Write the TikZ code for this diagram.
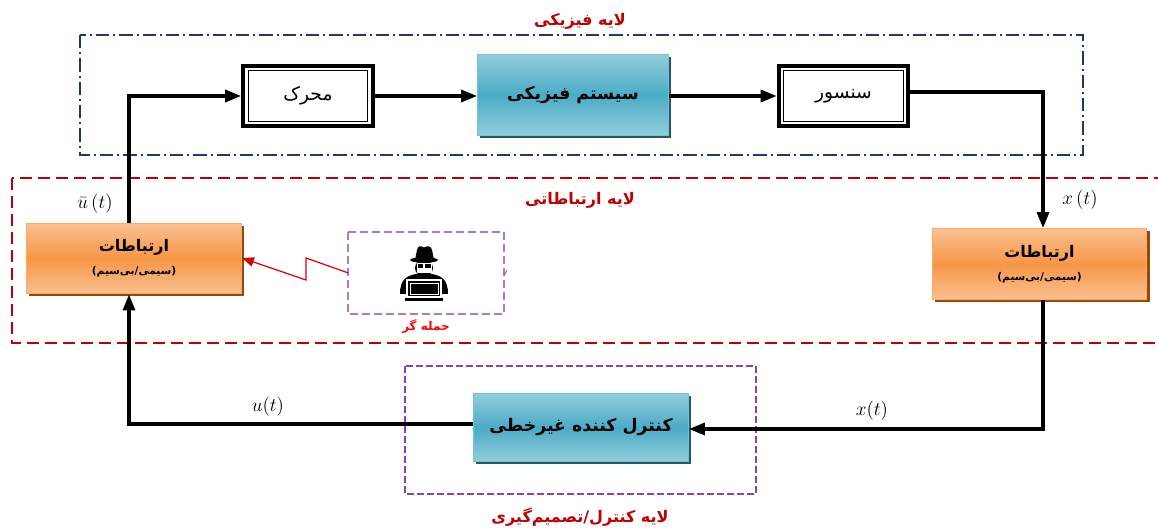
\documentclass[tikz,border=0pt]{standalone}
\usepackage{fontspec}
\usepackage{xcolor}
\usepackage{amsmath}
\usetikzlibrary{arrows.meta,shadows,calc}
\TeXXeTstate=1
\newfontfamily\farsi[Script=Arabic]{DejaVu Sans}
\newcommand{\fatxt}[1]{{\farsi\beginR #1\endR}}
\definecolor{navyline}{RGB}{31,56,110}
\definecolor{layerred}{RGB}{192,0,0}
\definecolor{attackred}{RGB}{255,0,0}
\definecolor{hackerpurple}{RGB}{167,124,205}
\definecolor{ctrlpurple}{RGB}{128,70,185}
\definecolor{tealtop}{RGB}{146,205,220}
\definecolor{tealmid}{RGB}{75,172,198}
\definecolor{tealedge}{RGB}{120,192,212}
\definecolor{tealshade}{RGB}{35,90,105}
\definecolor{orangetop}{RGB}{250,192,144}
\definecolor{orangemid}{RGB}{247,150,70}
\definecolor{orangeedge}{RGB}{249,170,110}
\definecolor{orangeshade}{RGB}{152,72,7}

\begin{document}
\begin{tikzpicture}[x=0.75pt,y=0.75pt,yscale=-1,xscale=1,
  flow/.style={line width=2.4pt,-{Triangle[length=12pt,width=9pt]}},
  framebox/.style={draw=black,line width=3.2pt,fill=white,minimum width=97pt,minimum height=45pt,inner sep=0pt,font=\fontsize{14}{16}\selectfont},
  tealbox/.style={draw=tealedge,line width=0.8pt,top color=tealtop,bottom color=tealtop,middle color=tealmid,general shadow={fill=tealshade,shadow xshift=2pt,shadow yshift=-2pt},font=\bfseries\fontsize{13}{15}\selectfont},
  orangebox/.style={draw=orangeedge,line width=0.8pt,top color=orangetop,bottom color=orangetop,middle color=orangemid,general shadow={fill=orangeshade,shadow xshift=2pt,shadow yshift=-2pt},minimum width=161pt,minimum height=53pt,align=center},
  layerlabel/.style={text=layerred,font=\bfseries\fontsize{12}{14}\selectfont},
  mathlabel/.style={font=\fontsize{14}{16}\selectfont}
]
\useasboundingbox (0,0) rectangle (1158,531);
%Shape: Rectangle (physical layer)
\draw [navyline,line width=1.1pt,dash pattern={on 10pt off 3pt on 1.5pt off 3pt}] (80,35) rectangle (1083,155) ;
%Shape: Rectangle (communication layer)
\draw [layerred,line width=1.1pt,dash pattern={on 9pt off 4.5pt}] (12,178) rectangle (1180,343) ;
%Shape: Rectangle (control layer)
\draw [ctrlpurple,line width=1.1pt,dash pattern={on 5pt off 2.5pt}] (405,366) rectangle (756,494) ;
%Shape: Rectangle (attacker)
\draw [hackerpurple,line width=1.1pt,dash pattern={on 6pt off 3pt}] (348,232) rectangle (504,314) ;

% Blocks
\node [framebox] (motor) at (308,96) {\fatxt{محرک}};
\draw [line width=0.8pt] ($(motor.north west)+(7,7)$) rectangle ($(motor.south east)+(-7,-7)$) ;
\node [tealbox,minimum width=143pt,minimum height=61pt] (plant) at (573,95) {\fatxt{سیستم فیزیکی}};
\node [framebox] (sensor) at (843.5,96) {\fatxt{سنسور}};
\draw [line width=0.8pt] ($(sensor.north west)+(7,7)$) rectangle ($(sensor.south east)+(-7,-7)$) ;
\node [orangebox] (comL) at (134,258.5) {{\bfseries\fontsize{12}{14}\selectfont\fatxt{ارتباطات}}\\[5pt]{\bfseries\fontsize{8}{10}\selectfont\fatxt{(سیمی/بی‌سیم)}}};
\node [orangebox] (comR) at (1039.5,264) {{\bfseries\fontsize{12}{14}\selectfont\fatxt{ارتباطات}}\\[5pt]{\bfseries\fontsize{8}{10}\selectfont\fatxt{(سیمی/بی‌سیم)}}};
\node [tealbox,minimum width=161pt,minimum height=51pt] (ctrl) at (581,427.5) {\fatxt{کنترل کننده غیرخطی}};

% Corners of the loop
\coordinate (upL) at (129,96);
\coordinate (upR) at (1043,92);
\coordinate (dnR) at (1043,429);
\coordinate (dnL) at (129,424);

%Straight Lines
\draw [flow] (motor.east) -- (plant.west |- motor.east) ;
\draw [flow] (plant.east |- sensor.west) -- (sensor.west) ;
\draw [flow] (sensor.east |- upR) -- (upR) -- (upR |- comR.north) ;
\draw [flow] (upL |- comL.north) -- (upL) -- (motor.west) ;
\draw [flow] (dnR |- comR.south) -- (dnR) -- (ctrl.east |- dnR) ;
\draw [flow] (ctrl.west |- dnL) -- (dnL) -- (dnL |- comL.south) ;

% Attacker icon
\node [minimum width=116pt,minimum height=61pt] (attacker) at (426,273) {};
\fill (415,260) -- (417,250) .. controls (418,245) and (421,246) .. (424,247.5) .. controls (427,246) and (431,245) .. (432,250) -- (434,260) -- cycle ;
\fill (424,260) ellipse (14 and 2.8) ;
\fill (424,268) ellipse (9 and 8.5) ;
\fill [white] (416.5,263) rectangle (431.5,273.5) ;
\fill (417.5,264) rectangle (423.2,268.5) ;
\fill (424.8,264) rectangle (430.5,268.5) ;
\fill (400,294) .. controls (400,281) and (405,276) .. (416,274) -- (432,274) .. controls (443,276) and (448,281) .. (448,294) -- cycle ;
\fill [white] (406,279) rectangle (442,297.5) ;
\fill (408,281) rectangle (440,296) ;
\draw [white,line width=0.5pt] (410,283) rectangle (438,294.5) ;
\fill (405,298.5) rectangle (443,301) ;

%Lightning
\draw [attackred!85!black,line width=0.9pt,-{Triangle[length=9pt,width=7pt]}] (attacker.west |- 0,273) -- (306,258) -- (306,280) -- (comL.east |- 0,258) ;
\draw [attackred!70,line width=0.7pt] (504,276) -- (507,270) ;

% Text Node
\node [layerlabel] (physlbl) at (580,21) {\fatxt{لایه فیزیکی}};
% Text Node
\node [layerlabel] (comlbl) at (580,200) {\fatxt{لایه ارتباطاتی}};
% Text Node
\node [layerlabel] (ctrllbl) at (580,517) {\fatxt{لایه کنترل/تصمیم‌گیری}};
% Text Node
\node [text=attackred,font=\bfseries\fontsize{9}{11}\selectfont] (attlbl) at (426,327) {\fatxt{حمله گر}};
% Text Node
\node [mathlabel] (ubar) at (95,204) {$\bar{u}\,(t)$};
% Text Node
\node [mathlabel] (xtop) at (1080,200) {$x\,(t)$};
% Text Node
\node [mathlabel] (ulbl) at (268,407) {$u(t)$};
% Text Node
\node [mathlabel] (xbot) at (872,411) {$x(t)$};
\end{tikzpicture}
\end{document}
